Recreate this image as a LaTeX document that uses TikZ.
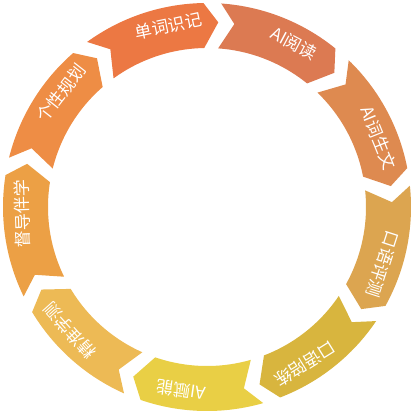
\documentclass[tikz,border=0pt]{standalone}
\usepackage{fontspec}
\setmainfont{Noto Sans CJK SC}
\definecolor{c0}{HTML}{EC7843}
\definecolor{c1}{HTML}{DC7A52}
\definecolor{c2}{HTML}{DE8A50}
\definecolor{c3}{HTML}{DCA550}
\definecolor{c4}{HTML}{D8B53E}
\definecolor{c5}{HTML}{E9CF45}
\definecolor{c6}{HTML}{EDBA55}
\definecolor{c7}{HTML}{ECA045}
\definecolor{c8}{HTML}{EE8D45}
\begin{document}
\begin{tikzpicture}[x=1pt,y=1pt,
  lbl/.style={text=white,font=\fontsize{17}{17}\selectfont,inner sep=0pt}]
\useasboundingbox (-207,-207) rectangle (207,207);
\def\Ro{204}\def\Ri{159}\def\Rm{185}\def\Rt{185}
\foreach \k/\col/\txt in {0/c0/单词识记,1/c1/AI阅读,2/c2/AI词生文,3/c3/口语评测,4/c4/口语陪练,5/c5/AI赋能,6/c6/精准学测,7/c7/督导伴学,8/c8/个性规划}{
  \pgfmathsetmacro\b{126-40*\k}
  \pgfmathsetmacro\a{\b-35}
  \pgfmathsetmacro\tp{\a-4.5}
  \pgfmathsetmacro\nv{\b-4.5}
  \pgfmathsetmacro\ta{\b-24}
  \pgfmathsetmacro\rot{\b-24-90}
  \fill[\col] (\b:\Ro) arc[start angle=\b,end angle=\a,radius=\Ro]
     -- (\tp:\Rm) -- (\a:\Ri) arc[start angle=\a,end angle=\b,radius=\Ri]
     -- (\nv:\Rm) -- cycle;
  \node[lbl,rotate=\rot] (t\k) at (\ta:\Rt) {\txt};
}
\end{tikzpicture}
\end{document}
